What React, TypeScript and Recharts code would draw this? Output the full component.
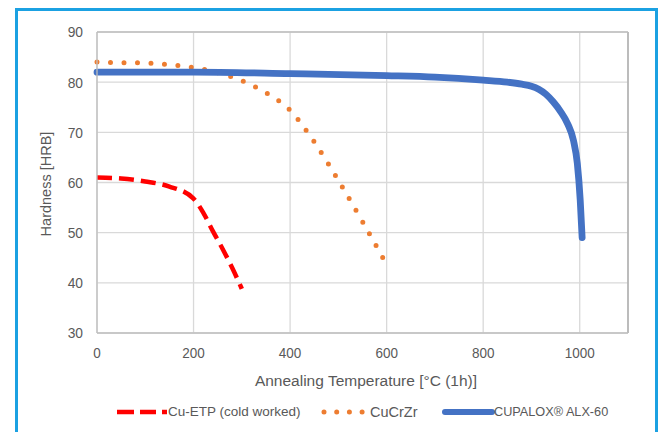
import { LineChart, Line, XAxis, YAxis, CartesianGrid, ReferenceLine } from 'recharts';

// Cu-ETP (cold worked)
const etpTemps = [0, 50, 100, 150, 200, 220, 240, 260, 280, 300];
const etpHardness = [61, 60.8, 60.2, 59.2, 56.8, 54, 50.3, 46.8, 43, 38.8];

// CuCrZr
const crzrTemps = [0, 50, 100, 150, 200, 250, 300, 350, 400, 450, 500, 550, 598];
const crzrHardness = [84, 83.9, 83.8, 83.5, 82.9, 81.9, 80.3, 77.9, 74.4, 68.1, 60.4, 52.2, 44];

// CUPALOX ALX-60
const alxTemps = [0, 200, 400, 600, 700, 800, 850, 880, 900, 915, 930, 945, 960, 975, 987, 995, 1001, 1005];
const alxHardness = [82, 82, 81.7, 81.3, 81, 80.4, 80, 79.6, 79.2, 78.6, 77.6, 76.1, 74.2, 71.7, 68.4, 63.8, 56.5, 49];

const xTicks = [0, 200, 400, 600, 800, 1000];
const yTicks = [30, 40, 50, 60, 70, 80, 90];

const toRows = (temps: number[], vals: number[]) => temps.map((t, i) => ({ t, h: vals[i] }));

const FONT = "'Liberation Sans', Arial, sans-serif";
const TEXT = '#595959';

const XTick = ({ x, y, payload }: any) => (
  <g transform={`translate(${x},${y})`}>
    <text transform="scale(0.9,1)" textAnchor="middle" dy="0.71em" fill={TEXT} fontSize={15} fontFamily={FONT}>
      {payload.value}
    </text>
  </g>
);

const YTick = ({ x, y, payload }: any) => (
  <g transform={`translate(${x},${y})`}>
    <text transform="scale(0.92,1)" textAnchor="end" dy="0.355em" fill={TEXT} fontSize={15} fontFamily={FONT}>
      {payload.value}
    </text>
  </g>
);

const legendText = { position: 'absolute' as const, top: 404, fontFamily: FONT, fontSize: 13.5, color: TEXT, whiteSpace: 'nowrap' as const, lineHeight: '16px' };

export default function App() {
  const etpData = toRows(etpTemps, etpHardness);
  const crzrData = toRows(crzrTemps, crzrHardness);
  const alxData = toRows(alxTemps, alxHardness);

  return (
    <div style={{ position: 'absolute', left: 0, top: 0, width: 662, height: 432, overflow: 'hidden', background: '#fff' }}>
      <div
        style={{
          position: 'absolute', left: 15, top: 8, width: 643, height: 450,
          border: '3px solid #1ba1e2', boxSizing: 'border-box',
        }}
      />
      <div style={{ position: 'absolute', left: 0, top: 0 }}>
        <LineChart width={662} height={432} margin={{ top: 32, right: 34, bottom: 69, left: 57 }}>
          <CartesianGrid stroke="#d9d9d9" strokeWidth={1.3} />
          <XAxis
            type="number"
            dataKey="t"
            domain={[0, 1100]}
            ticks={xTicks}
            allowDuplicatedCategory={false}
            height={30}
            axisLine={{ stroke: '#bfbfbf', strokeWidth: 1.3 }}
            tickLine={false}
            tickMargin={8}
            tick={<XTick />}
          />
          <YAxis
            type="number"
            domain={[30, 90]}
            ticks={yTicks}
            width={40}
            axisLine={{ stroke: '#bfbfbf', strokeWidth: 1.3 }}
            tickLine={false}
            tickMargin={8}
            tick={<YTick />}
          />
          <ReferenceLine x={1100} stroke="#a6a6a6" strokeWidth={1.3} />
          <ReferenceLine y={90} stroke="#bfbfbf" strokeWidth={1.3} />
          <Line
            data={etpData}
            dataKey="h"
            type="monotone"
            stroke="#ff0000"
            strokeWidth={4.5}
            strokeDasharray="15 7"
            dot={false}
            isAnimationActive={false}
          />
          <Line
            data={crzrData}
            dataKey="h"
            type="monotone"
            stroke="#ed7d31"
            strokeWidth={5}
            strokeDasharray="0 13.5"
            strokeLinecap="round"
            dot={false}
            isAnimationActive={false}
          />
          <Line
            data={alxData}
            dataKey="h"
            type="monotone"
            stroke="#4472c4"
            strokeWidth={6.8}
            strokeLinecap="round"
            dot={false}
            isAnimationActive={false}
          />
        </LineChart>
      </div>

      {/* axis titles */}
      <div
        style={{
          position: 'absolute', left: 366, top: 372, transform: 'translateX(-50%)',
          fontFamily: FONT, fontSize: 15.5, color: TEXT, whiteSpace: 'nowrap', lineHeight: '18px',
        }}
      >
        Annealing Temperature [°C (1h)]
      </div>
      <div
        style={{
          position: 'absolute', left: 46, top: 184, transform: 'translate(-50%, -50%) rotate(-90deg)',
          fontFamily: FONT, fontSize: 14.5, color: TEXT, whiteSpace: 'nowrap', lineHeight: '16px',
        }}
      >
        Hardness [HRB]
      </div>

      {/* legend */}
      <svg style={{ position: 'absolute', left: 0, top: 402 }} width={662} height={20}>
        <line x1={117} y1={10} x2={168} y2={10} stroke="#ff0000" strokeWidth={4.5} strokeDasharray="17 6 16 6 5 40" />
        <line x1={324} y1={10} x2={364} y2={10} stroke="#ed7d31" strokeWidth={5} strokeDasharray="0 12.7" strokeLinecap="round" />
        <line x1={445} y1={10} x2={492} y2={10} stroke="#4472c4" strokeWidth={6} strokeLinecap="round" />
      </svg>
      <div style={{ ...legendText, left: 168 }}>Cu-ETP (cold worked)</div>
      <div style={{ ...legendText, left: 370, fontSize: 14.5 }}>CuCrZr</div>
      <div style={{ ...legendText, left: 494, transform: 'scaleX(0.94)', transformOrigin: 'left center' }}>CUPALOX® ALX-60</div>
    </div>
  );
}
